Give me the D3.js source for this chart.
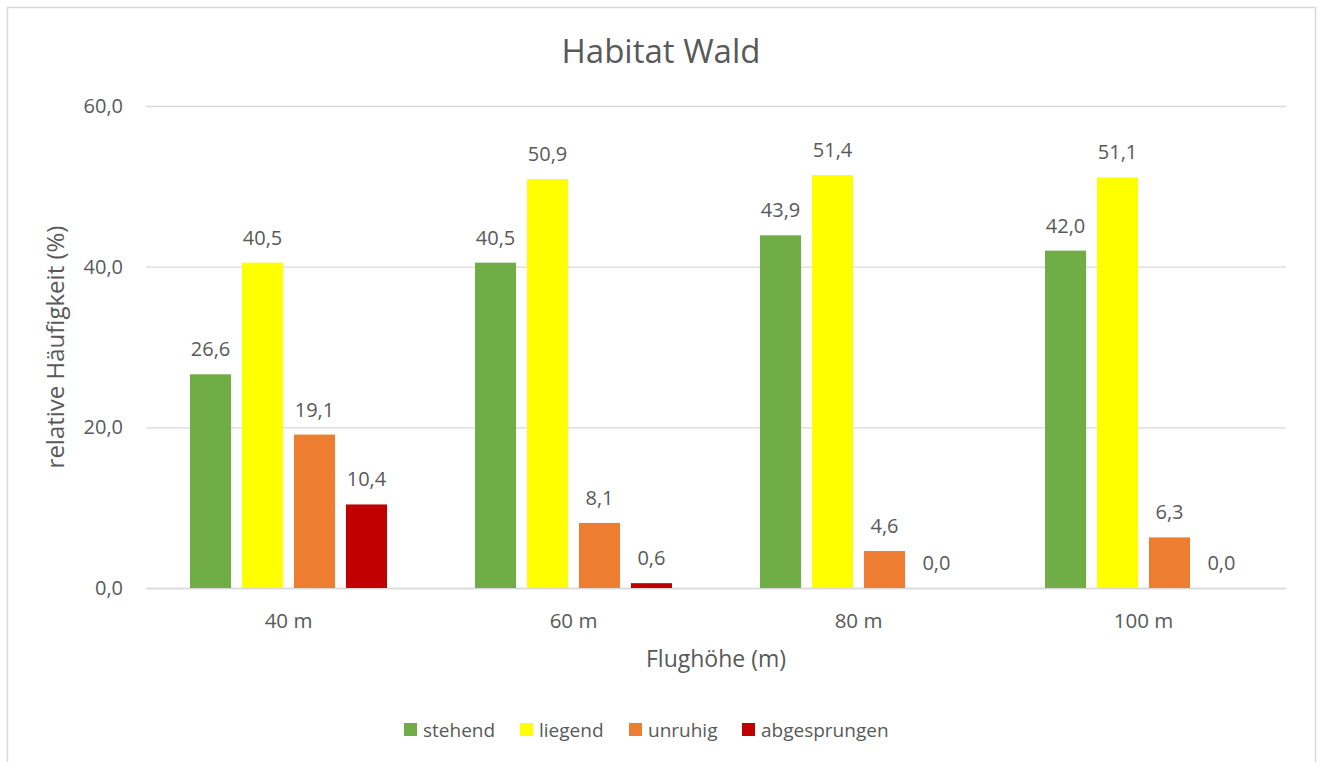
<!DOCTYPE html>
<html>
<head>
<meta charset="utf-8">
<script src="https://cdn.jsdelivr.net/npm/d3@7"></script>
<style>
  body { margin: 0; background: #fff; }
  svg text { font-family: "Open Sans", sans-serif; fill: #595959; }
</style>
</head>
<body>
<div id="chart"></div>
<script>
let heights = ["40 m", "60 m", "80 m", "100 m"];
let seriesNames = ["stehend", "liegend", "unruhig", "abgesprungen"];
let stehend = [26.6, 40.5, 43.9, 42.0];
let liegend = [40.5, 50.9, 51.4, 51.1];
let unruhig = [19.1, 8.1, 4.6, 6.3];
let abgesprungen = [10.4, 0.6, 0.0, 0.0];
let colorList = ["#70ad47", "#ffff00", "#ed7d31", "#c00000"];
let yTicks = [0, 20, 40, 60];

let seriesValues = [stehend, liegend, unruhig, abgesprungen];

let dim = { width: 1319, height: 762 };
let plot = { left: 146, right: 1286, top: 106, bottom: 588 };

let svg = d3.select('#chart').append('svg')
    .attr('width', dim.width)
    .attr('height', dim.height);

// chart frame
svg.append('rect')
    .attr('x', 7.5).attr('y', 7.5)
    .attr('width', 1308).attr('height', 770)
    .attr('fill', '#fff')
    .attr('stroke', '#d9d9d9')
    .attr('stroke-width', 1.5);

let scaleX = d3.scaleBand()
    .domain(heights)
    .range([plot.left, plot.right]);

let scaleInner = d3.scaleBand()
    .domain(seriesNames)
    .range([44, scaleX.bandwidth() - 44])
    .paddingInner(0.21);

let scaleY = d3.scaleLinear()
    .domain([0, 60])
    .range([plot.bottom, plot.top]);

let colors = d3.scaleOrdinal()
    .domain(seriesNames)
    .range(colorList);

let fmt = v => d3.format('.1f')(v).replace('.', ',');

// gridlines + y labels
let axisY = svg.append('g')
    .attr('transform', `translate(${plot.left},0)`)
    .call(d3.axisLeft(scaleY).tickValues(yTicks)
        .tickSize(-(plot.right - plot.left))
        .tickPadding(23)
        .tickFormat(fmt));
axisY.select('.domain').remove();
axisY.selectAll('line').attr('stroke', '#d9d9d9').attr('stroke-width', 1.3);
axisY.selectAll('text').attr('font-size', 20).attr('fill', '#595959')
    .style('font-family', '"Open Sans", sans-serif');

// x labels
let axisX = svg.append('g')
    .attr('transform', `translate(0,${plot.bottom})`)
    .call(d3.axisBottom(scaleX).tickSize(0));
axisX.select('.domain').attr('stroke', '#d9d9d9').attr('stroke-width', 1.5);
axisX.selectAll('text').attr('y', 25).attr('font-size', 20.5).attr('fill', '#595959')
    .style('font-family', '"Open Sans", sans-serif');

let rows = [];
heights.forEach((h, i) => {
    seriesNames.forEach((s, j) => {
        rows.push({ height: h, series: s, value: seriesValues[j][i] });
    });
});

svg.append('g').selectAll('rect')
    .data(rows)
    .join('rect')
    .attr('x', d => scaleX(d.height) + scaleInner(d.series))
    .attr('y', d => scaleY(d.value))
    .attr('width', scaleInner.bandwidth())
    .attr('height', d => scaleY(0) - scaleY(d.value))
    .attr('fill', d => colors(d.series));

svg.append('g').selectAll('text')
    .data(rows)
    .join('text')
    .attr('x', d => scaleX(d.height) + scaleInner(d.series) + scaleInner.bandwidth() / 2)
    .attr('y', d => scaleY(d.value) - 18)
    .attr('text-anchor', 'middle')
    .attr('font-size', 20)
    .text(d => fmt(d.value));

// title
svg.append('text')
    .attr('x', 661).attr('y', 63)
    .attr('text-anchor', 'middle')
    .attr('font-size', 33)
    .text('Habitat Wald');

// axis titles
svg.append('text')
    .attr('x', (plot.left + plot.right) / 2).attr('y', 667)
    .attr('text-anchor', 'middle')
    .attr('font-size', 23)
    .text('Flughöhe (m)');

svg.append('text')
    .attr('transform', `translate(64,${(plot.top + plot.bottom) / 2}) rotate(-90)`)
    .attr('text-anchor', 'middle')
    .attr('font-size', 24)
    .text('relative Häufigkeit (%)');

// legend
let legendX = [404, 520, 629, 742];
let legend = svg.append('g').selectAll('g')
    .data(seriesNames)
    .join('g')
    .attr('transform', (d, i) => `translate(${legendX[i]},723)`);
legend.append('rect')
    .attr('width', 13).attr('height', 13)
    .attr('fill', d => colors(d));
legend.append('text')
    .attr('x', 19).attr('y', 14)
    .attr('font-size', 19)
    .text(d => d);
</script>
</body>
</html>
